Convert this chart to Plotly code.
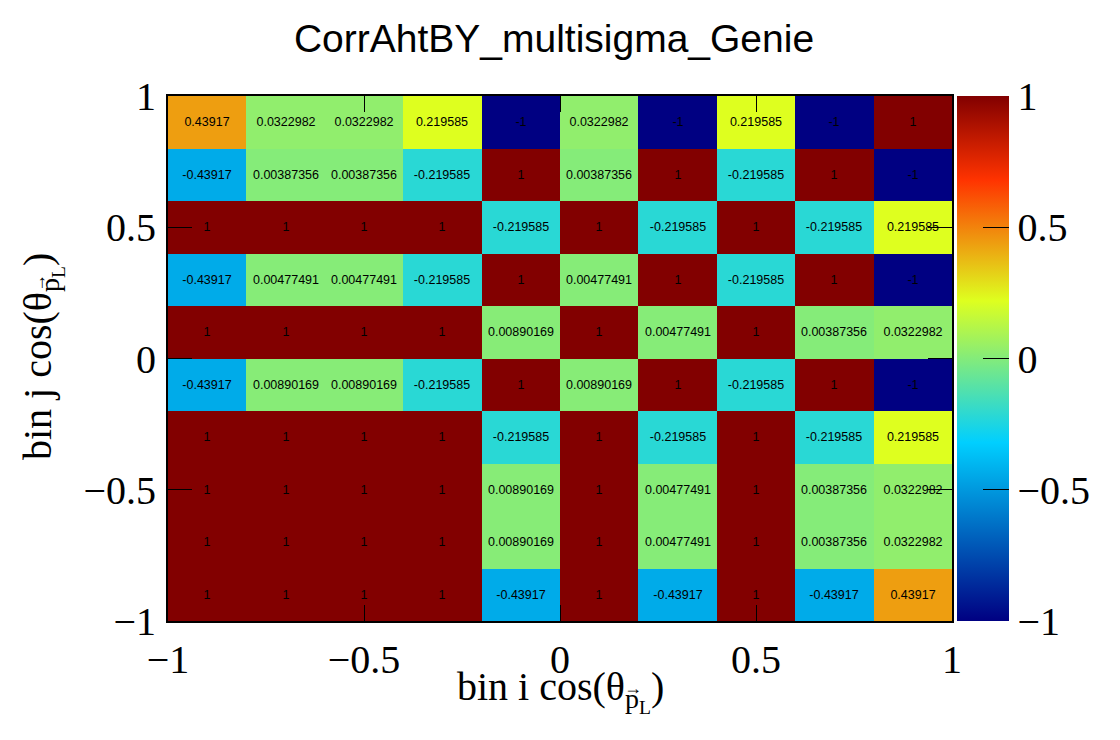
import plotly.graph_objects as go

# bin centres of the 10x10 correlation matrix (cos theta, -1..1)
bin_centers = [-0.9, -0.7, -0.5, -0.3, -0.1, 0.1, 0.3, 0.5, 0.7, 0.9]
tick_vals = [-1, -0.5, 0, 0.5, 1]

# correlation values, rows listed from top (bin j = 10) to bottom (bin j = 1)
row_10 = [0.43917, 0.0322982, 0.0322982, 0.219585, -1, 0.0322982, -1, 0.219585, -1, 1]
row_9 = [-0.43917, 0.00387356, 0.00387356, -0.219585, 1, 0.00387356, 1, -0.219585, 1, -1]
row_8 = [1, 1, 1, 1, -0.219585, 1, -0.219585, 1, -0.219585, 0.219585]
row_7 = [-0.43917, 0.00477491, 0.00477491, -0.219585, 1, 0.00477491, 1, -0.219585, 1, -1]
row_6 = [1, 1, 1, 1, 0.00890169, 1, 0.00477491, 1, 0.00387356, 0.0322982]
row_5 = [-0.43917, 0.00890169, 0.00890169, -0.219585, 1, 0.00890169, 1, -0.219585, 1, -1]
row_4 = [1, 1, 1, 1, -0.219585, 1, -0.219585, 1, -0.219585, 0.219585]
row_3 = [1, 1, 1, 1, 0.00890169, 1, 0.00477491, 1, 0.00387356, 0.0322982]
row_2 = [1, 1, 1, 1, 0.00890169, 1, 0.00477491, 1, 0.00387356, 0.0322982]
row_1 = [1, 1, 1, 1, -0.43917, 1, -0.43917, 1, -0.43917, 0.43917]

rows_top_down = [row_10, row_9, row_8, row_7, row_6, row_5, row_4, row_3, row_2, row_1]
z = rows_top_down[::-1]  # plotly wants the bottom row first
cell_text = [[f"{v:g}" for v in r] for r in z]

# ROOT-like 5 stop palette
palette = [
    [0.00, "rgb(0,0,130)"],
    [0.34, "rgb(0,207,255)"],
    [0.61, "rgb(222,255,31)"],
    [0.84, "rgb(255,51,0)"],
    [1.00, "rgb(130,0,0)"],
]

serif = "Liberation Serif, Times New Roman, serif"
sans = "Liberation Sans, Arial, sans-serif"

W, H = 1120, 740
left, right, top, bottom = 168, 952, 96, 621
pw, ph = right - left, bottom - top


def px(x):
    return (x - left) / pw


def py(y):
    return (bottom - y) / ph


# theta with p (vector arrow added separately) and sub-subscript L
theta_lbl = "cos(θ<sub>p<sub>L</sub></sub>)"

fig = go.Figure(go.Heatmap(
    x=bin_centers,
    y=bin_centers,
    z=z,
    text=cell_text,
    texttemplate="%{text}",
    textfont=dict(family=sans, size=12.5, color="black"),
    zmin=-1, zmax=1,
    colorscale=palette,
    colorbar=dict(
        x=px(957), xanchor="left",
        y=0, yanchor="bottom", len=1, lenmode="fraction",
        thickness=52, xpad=0, ypad=0,
        outlinewidth=0,
        tickvals=tick_vals,
        ticks="inside", ticklen=26, tickcolor="black", tickwidth=1,
        tickfont=dict(family=serif, size=40, color="black"),
    ),
    hoverongaps=False,
))

axis_common = dict(
    range=[-1, 1],
    tickvals=tick_vals,
    ticks="inside",
    tickcolor="black",
    tickwidth=1,
    showline=True,
    linecolor="black",
    linewidth=2,
    mirror="allticks",
    showgrid=False,
    zeroline=False,
    tickfont=dict(family=serif, size=40, color="black"),
)

fig.update_xaxes(**axis_common, ticklen=16, ticklabelstandoff=2)
fig.update_yaxes(**axis_common, ticklen=24, ticklabelstandoff=2)

fig.update_layout(
    width=W, height=H,
    margin=dict(l=left, r=W - right, t=top, b=H - bottom, autoexpand=False),
    paper_bgcolor="white",
    plot_bgcolor="white",
    title=dict(text="CorrAhtBY_multisigma_Genie", x=554 / W, xanchor="center",
               y=1 - 38 / H, yanchor="middle",
               font=dict(family=sans, size=39, color="black")),
    annotations=[
        dict(text="bin i " + theta_lbl, xref="paper", yref="paper",
             x=px(560), y=py(691), xanchor="center", yanchor="middle",
             showarrow=False, font=dict(family=serif, size=40, color="black")),
        dict(text="→", xref="paper", yref="paper",
             x=px(633), y=py(688), xanchor="center", yanchor="middle",
             showarrow=False, font=dict(family=serif, size=18, color="black")),
        dict(text="bin j " + theta_lbl, xref="paper", yref="paper",
             x=px(42), y=py(356), xanchor="center", yanchor="middle",
             textangle=-90, showarrow=False,
             font=dict(family=serif, size=40, color="black")),
        dict(text="→", xref="paper", yref="paper",
             x=px(39), y=py(283), xanchor="center", yanchor="middle",
             textangle=-90, showarrow=False,
             font=dict(family=serif, size=18, color="black")),
    ],
    shapes=[
        dict(type="line", xref="paper", yref="paper",
             x0=px(1008), x1=px(1008), y0=0, y1=1,
             line=dict(color="black", width=1.5)),
    ],
)

# drop the default body margin so the figure sits at the page corner
fig.write_html("out.html", config={"displayModeBar": False},
               post_script="document.body.style.margin='0';")
